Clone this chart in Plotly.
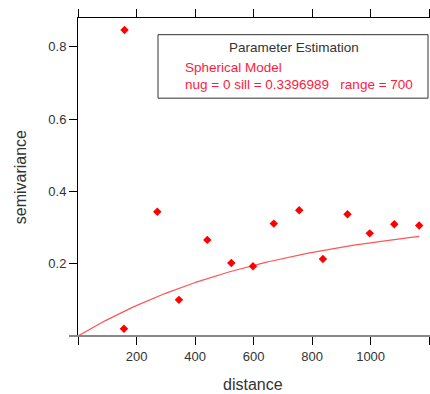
import numpy as np
import plotly.graph_objects as go

distance = [159, 157, 271, 345, 442, 524, 598, 669, 756, 837, 921, 997, 1081, 1166]
semivariance = [0.847, 0.020, 0.344, 0.100, 0.266, 0.202, 0.193, 0.311, 0.348, 0.213, 0.337, 0.284, 0.309, 0.306]

nugget = 0
sill = 0.3396989
model_range = 700

x_ticks = [0, 200, 400, 600, 800, 1000, 1200]
x_ticklabels = ["", "200", "400", "600", "800", "1000", ""]
y_ticks = [0, 0.2, 0.4, 0.6, 0.8]
y_ticklabels = ["", "0.2", "0.4", "0.6", "0.8"]

h = np.linspace(0, max(distance), 200)
gamma = nugget + (sill - nugget) * (1 - np.exp(-h / model_range))

FONT = "Liberation Sans, Arial, sans-serif"
TXT = "#333333"

fig = go.Figure()
fig.add_trace(go.Scatter(x=h, y=gamma, mode="lines",
                         line=dict(color="#ff5555", width=1.2), hoverinfo="skip"))
fig.add_trace(go.Scatter(x=distance, y=semivariance, mode="markers",
                         marker=dict(symbol="diamond", size=6.5, color="#ff0000")))

fig.update_layout(
    width=430, height=394,
    margin=dict(l=78, r=0, t=18, b=57.5),
    paper_bgcolor="white", plot_bgcolor="white",
    showlegend=False,
    font=dict(family=FONT, size=13, color=TXT),
    xaxis=dict(range=[0, 1203], tickvals=x_ticks, ticktext=x_ticklabels,
               showgrid=False, zeroline=False, showline=True, linecolor="black",
               linewidth=1, mirror="allticks", ticks="outside", ticklen=8,
               tickcolor="black", tickfont=dict(size=13, color=TXT)),
    yaxis=dict(range=[0, 0.88], tickvals=y_ticks, ticktext=y_ticklabels,
               showgrid=False, zeroline=False, showline=True, linecolor="black",
               linewidth=1, ticks="outside", ticklen=8, tickcolor="black",
               tickfont=dict(size=13, color=TXT)),
    shapes=[
        dict(type="line", xref="paper", yref="paper", x0=-0.0256, x1=1.0, y0=0, y1=0,
             line=dict(color="#888888", width=2)),
        dict(type="rect", xref="paper", yref="paper",
             x0=(158 - 78) / 352, x1=(428 - 78) / 352,
             y0=(336.5 - 98.3) / 318.5, y1=(336.5 - 34.7) / 318.5,
             line=dict(color="#333333", width=1), fillcolor="white"),
    ],
    annotations=[
        dict(text="distance", xref="paper", yref="paper", x=(253 - 78) / 352, y=-(385 - 336.5) / 318.5,
             showarrow=False, xanchor="center", yanchor="middle", font=dict(size=16, color=TXT)),
        dict(text="semivariance", xref="paper", yref="paper", x=-(78 - 20.5) / 352, y=(336.5 - 178) / 318.5,
             showarrow=False, xanchor="center", yanchor="middle", textangle=-90,
             font=dict(size=16, color=TXT)),
        dict(text="Parameter Estimation", xref="paper", yref="paper", x=(294 - 78) / 352,
             y=(336.5 - 47.7) / 318.5, showarrow=False, xanchor="center", yanchor="middle",
             font=dict(size=13.5, color=TXT)),
        dict(text="Spherical Model", xref="paper", yref="paper", x=(182.7 - 78) / 352,
             y=(336.5 - 68) / 318.5, showarrow=False, xanchor="left", yanchor="middle",
             font=dict(size=13.5, color="#ff1a3c")),
        dict(text="nug = 0 sill = 0.3396989\u00a0\u00a0\u00a0range = 700", xref="paper", yref="paper",
             x=(182.7 - 78) / 352, y=(336.5 - 84.7) / 318.5, showarrow=False,
             xanchor="left", yanchor="middle", font=dict(size=13.5, color="#ff1a3c")),
    ],
)

fig.write_html("out.html")
